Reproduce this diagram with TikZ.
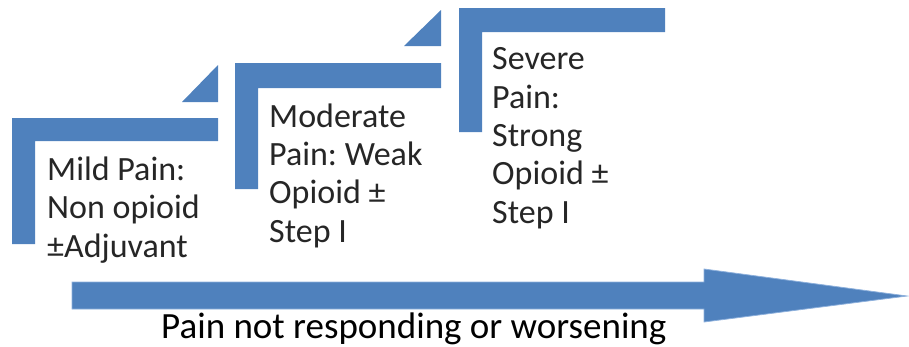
\documentclass[tikz,border=0pt]{standalone}
\usepackage{fontspec}
\setmainfont{Carlito}
\frenchspacing
\definecolor{stepblue}{HTML}{4F81BD}
\definecolor{edgeblue}{HTML}{8DB0DC}
\begin{document}
\begin{tikzpicture}[x=1pt,y=-1pt,
  steptext/.style={anchor=base west,inner sep=0pt,align=left,font=\fontsize{34}{38.3}\selectfont,text=black!85},
  captext/.style={anchor=base west,inner sep=0pt,font=\fontsize{37}{40}\selectfont,text=black}]
\useasboundingbox (0,0) rectangle (909,346);
% step 1
\fill[stepblue] (12,118) -- (218,118) -- (218,141) -- (35,141) -- (35,244) -- (12,244) -- cycle;
\fill[stepblue] (182,102) -- (218,65) -- (218,102) -- cycle;
% step 2
\fill[stepblue] (235,63) -- (441,63) -- (441,88) -- (258,88) -- (258,189) -- (235,189) -- cycle;
\fill[stepblue] (404,46) -- (441,10) -- (441,46) -- cycle;
% step 3
\fill[stepblue] (459,8) -- (665,8) -- (665,32) -- (482,32) -- (482,132) -- (459,132) -- cycle;
% texts (anchored at the baseline of the last line)
\node[steptext] (s1) at (47,257) {Mild Pain:\\Non opioid\\±Adjuvant};
\node[steptext] (s2) at (269,242) {Moderate\\Pain: Weak\\Opioid ±\\Step I};
\node[steptext] (s3) at (492,223) {Severe\\Pain:\\Strong\\Opioid ±\\Step I};
% arrow
\filldraw[fill=stepblue,draw=edgeblue,line width=0.8pt,line join=miter]
  (72,282) -- (704,282) -- (704,269) -- (907,296) -- (704,322) -- (704,309) -- (72,309) -- cycle;
\node[captext] (cap) at (161,338) {Pain not responding or worsening};
\end{tikzpicture}
\end{document}
